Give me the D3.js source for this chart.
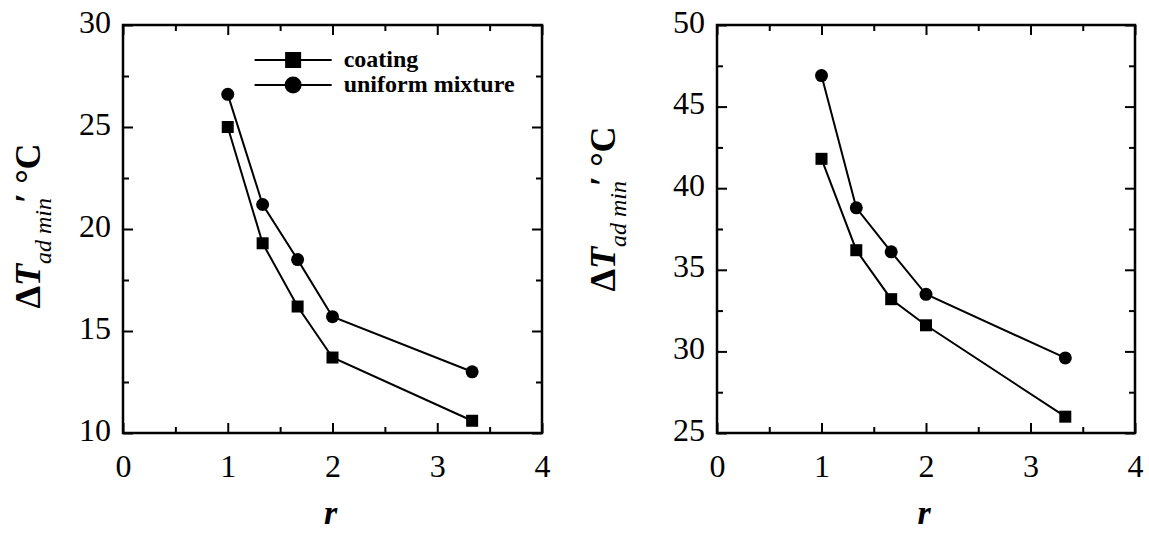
<!DOCTYPE html>
<html>
<head>
<meta charset="utf-8">
<script src="https://cdn.jsdelivr.net/npm/d3@7"></script>
<style>
  body { margin: 0; background: #fff; }
  svg { display: block; font-family: "Liberation Serif", "Times New Roman", "DejaVu Serif", serif; }
</style>
</head>
<body>
<script>
// data
var rValues = [1, 1.333, 1.667, 2, 3.333];
var coatingLeft = [25, 19.3, 16.2, 13.7, 10.6];
var mixtureLeft = [26.6, 21.2, 18.5, 15.7, 13.0];
var coatingRight = [41.8, 36.2, 33.2, 31.6, 26.0];
var mixtureRight = [46.9, 38.8, 36.1, 33.5, 29.6];
var xTicks = [0, 1, 2, 3, 4];
var yTicksLeft = [10, 15, 20, 25, 30];
var yTicksRight = [25, 30, 35, 40, 45, 50];
var seriesNames = ["coating", "uniform mixture"];

var w = 1149,
    h = 533;

var svg = d3.select("body")
    .append("svg")
    .attr("width", w)
    .attr("height", h);

function drawPanel(cfg) {
    var x = d3.scaleLinear().domain([0, 4]).range([cfg.left, cfg.right]);
    var y = d3.scaleLinear().domain(cfg.yDomain).range([cfg.bottom, cfg.top]);
    var g = svg.append("g");

    var xMinor = d3.range(0.5, 4, 1);
    var yStep = cfg.yTicks[1] - cfg.yTicks[0];
    var yMinor = d3.range(cfg.yDomain[0] + yStep / 2, cfg.yDomain[1], yStep);

    function style(sel) {
        sel.select(".domain").remove();
        sel.selectAll(".tick line").attr("stroke", "#000").attr("stroke-width", 2);
        sel.selectAll("text")
            .attr("fill", "#000")
            .style("font-size", "32px")
            .style("font-family", "'Liberation Serif', 'Times New Roman', serif");
    }

    // bottom
    g.append("g").attr("transform", "translate(0," + cfg.bottom + ")")
        .call(d3.axisBottom(x).tickValues(xTicks).tickSize(-10).tickPadding(21).tickFormat(d3.format("d")))
        .call(style);
    g.append("g").attr("transform", "translate(0," + cfg.bottom + ")")
        .call(d3.axisBottom(x).tickValues(xMinor).tickSize(-6).tickFormat(""))
        .call(style);
    // top
    g.append("g").attr("transform", "translate(0," + cfg.top + ")")
        .call(d3.axisTop(x).tickValues(xTicks).tickSize(-10).tickFormat(""))
        .call(style);
    g.append("g").attr("transform", "translate(0," + cfg.top + ")")
        .call(d3.axisTop(x).tickValues(xMinor).tickSize(-6).tickFormat(""))
        .call(style);
    // left
    var yl = g.append("g").attr("transform", "translate(" + cfg.left + ",0)")
        .call(d3.axisLeft(y).tickValues(cfg.yTicks).tickSize(-10).tickPadding(12).tickFormat(d3.format("d")))
        .call(style);
    yl.selectAll("text").attr("dy", "0.22em");
    g.append("g").attr("transform", "translate(" + cfg.left + ",0)")
        .call(d3.axisLeft(y).tickValues(yMinor).tickSize(-6).tickFormat(""))
        .call(style);
    // right
    g.append("g").attr("transform", "translate(" + cfg.right + ",0)")
        .call(d3.axisRight(y).tickValues(cfg.yTicks).tickSize(-10).tickFormat(""))
        .call(style);
    g.append("g").attr("transform", "translate(" + cfg.right + ",0)")
        .call(d3.axisRight(y).tickValues(yMinor).tickSize(-6).tickFormat(""))
        .call(style);

    // frame
    g.append("rect")
        .attr("x", cfg.left)
        .attr("y", cfg.top)
        .attr("width", cfg.right - cfg.left)
        .attr("height", cfg.bottom - cfg.top)
        .attr("fill", "none")
        .attr("stroke", "#000")
        .attr("stroke-width", 2.5);

    var line = d3.line()
        .x(function (d) { return x(d[0]); })
        .y(function (d) { return y(d[1]); });

    var coat = rValues.map(function (r, i) { return [r, cfg.coating[i]]; });
    var mix = rValues.map(function (r, i) { return [r, cfg.mixture[i]]; });

    [coat, mix].forEach(function (data) {
        g.append("path")
            .datum(data)
            .attr("d", line)
            .attr("fill", "none")
            .attr("stroke", "#000")
            .attr("stroke-width", 2);
    });

    g.selectAll(".sq")
        .data(coat)
        .enter()
        .append("rect")
        .attr("x", function (d) { return x(d[0]) - 6; })
        .attr("y", function (d) { return y(d[1]) - 6; })
        .attr("width", 12)
        .attr("height", 12)
        .attr("fill", "#000");

    g.selectAll(".ci")
        .data(mix)
        .enter()
        .append("circle")
        .attr("cx", function (d) { return x(d[0]); })
        .attr("cy", function (d) { return y(d[1]); })
        .attr("r", 6.5)
        .attr("fill", "#000");

    // x label
    g.append("text")
        .attr("x", (cfg.left + cfg.right) / 2 - 2)
        .attr("y", 524)
        .attr("text-anchor", "middle")
        .style("font-size", "34px")
        .style("font-weight", "bold")
        .style("font-style", "italic")
        .text("r");

    // y label
    var lab = g.append("text")
        .attr("transform", "translate(" + cfg.labelX + "," + cfg.labelY + ") rotate(-90)")
        .attr("text-anchor", "middle")
        .style("font-size", "36px")
        .style("font-weight", "bold");
    lab.append("tspan").text("Δ");
    lab.append("tspan").style("font-style", "italic").text("T");
    lab.append("tspan")
        .attr("dy", 11)
        .style("font-size", "24px")
        .style("font-style", "italic")
        .style("font-weight", "normal")
        .text("ad min");
    lab.append("tspan").attr("dy", -11).attr("dx", -5).text("′");
    lab.append("tspan").text(" °C");

    if (cfg.legend) {
        var lx0 = cfg.left + (cfg.right - cfg.left) * 0.314,
            lx1 = cfg.left + (cfg.right - cfg.left) * 0.498;
        var lg = g.append("g");
        seriesNames.forEach(function (name, i) {
            var ly = cfg.top + 35 + i * 25;
            lg.append("line")
                .attr("x1", lx0).attr("x2", lx1)
                .attr("y1", ly).attr("y2", ly)
                .attr("stroke", "#000").attr("stroke-width", 2);
            if (i === 0) {
                lg.append("rect")
                    .attr("x", (lx0 + lx1) / 2 - 8).attr("y", ly - 8)
                    .attr("width", 16).attr("height", 16)
                    .attr("fill", "#000");
            } else {
                lg.append("circle")
                    .attr("cx", (lx0 + lx1) / 2).attr("cy", ly)
                    .attr("r", 8.5).attr("fill", "#000");
            }
            lg.append("text")
                .attr("x", lx1 + 12)
                .attr("y", ly + 7)
                .style("font-size", "24px")
                .style("font-weight", "bold")
                .text(name);
        });
    }
}

drawPanel({
    left: 123, right: 542, top: 25, bottom: 433,
    yDomain: [10, 30], yTicks: yTicksLeft,
    coating: coatingLeft, mixture: mixtureLeft,
    labelX: 40, labelY: 226, legend: true
});

drawPanel({
    left: 717, right: 1135, top: 25, bottom: 433,
    yDomain: [25, 50], yTicks: yTicksRight,
    coating: coatingRight, mixture: mixtureRight,
    labelX: 615, labelY: 209, legend: false
});
</script>
</body>
</html>
